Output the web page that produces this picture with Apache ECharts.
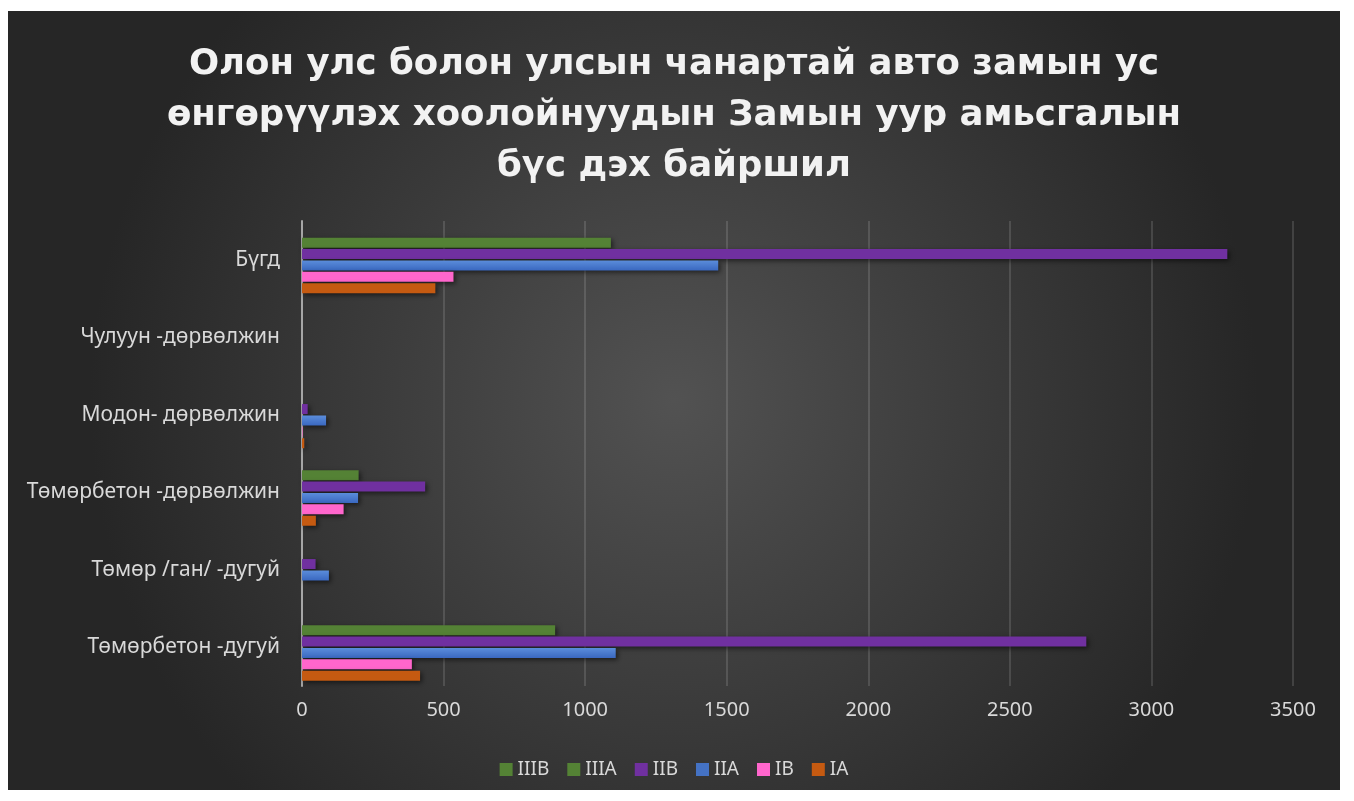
<!DOCTYPE html>
<html>
<head>
<meta charset="utf-8">
<script src="https://cdn.jsdelivr.net/npm/echarts@6/dist/echarts.min.js"></script>
<style>
html,body{margin:0;padding:0;background:#ffffff;}
#chart{position:absolute;left:8px;top:11px;width:1332px;height:779px;}
</style>
</head>
<body>
<div id="chart"></div>
<script>
const categories = ['Төмөрбетон -дугуй','Төмөр /ган/ -дугуй','Төмөрбетон -дөрвөлжин','Модон- дөрвөлжин','Чулуун -дөрвөлжин','Бүгд'];
const seriesNames = ['IIIB','IIIA','IIB','IIA','IB','IA'];
const valuesIA   = [417, 0, 49, 8, 0, 471];
const valuesIB   = [388, 0, 147, 2, 0, 535];
const valuesIIA  = [1108, 95, 198, 85, 0, 1470];
const valuesIIB  = [2770, 48, 435, 20, 0, 3268];
const valuesIIIA = [894, 0, 200, 0, 0, 1091];
const valuesIIIB = [0, 0, 0, 0, 0, 0];
const legendOrder = ['IIIB','IIIA','IIB','IIA','IB','IA'];
const xTicks = [0, 500, 1000, 1500, 2000, 2500, 3000, 3500];

const colors = {
  IA: '#c55a11',
  IB: '#ff66cc',
  IIA: {type:'linear',x:0,y:0,x2:0,y2:1,colorStops:[{offset:0,color:'#5b8ddb'},{offset:1,color:'#3a68c0'}]},
  IIB: '#7030a0',
  IIIA: '#548235',
  IIIB: '#548235'
};
const legendColors = {IA:'#c55a11',IB:'#ff66cc',IIA:'#4472c4',IIB:'#7030a0',IIIA:'#548235',IIIB:'#548235'};
const dataMap = {IA:valuesIA,IB:valuesIB,IIA:valuesIIA,IIB:valuesIIB,IIIA:valuesIIIA,IIIB:valuesIIIB};

const chart = echarts.init(document.getElementById('chart'));
chart.setOption({
  backgroundColor: {type:'radial',x:0.5,y:0.5,r:0.75,colorStops:[{offset:0,color:'#525252'},{offset:1,color:'#262626'}]},
  title: {
    text: 'Олон улс болон улсын чанартай авто замын ус\nөнгөрүүлэх хоолойнуудын Замын уур амьсгалын\nбүс дэх байршил',
    left: 'center',
    top: 23,
    textStyle: {color:'#f2f2f2', fontSize:35.5, fontWeight:'bold', fontFamily:'DejaVu Sans', lineHeight:51}
  },
  legend: {
    data: legendOrder.map(n => ({name:n, itemStyle:{color:legendColors[n]}})),
    bottom: 6,
    left: 'center',
    itemWidth: 13, itemHeight: 13, itemGap: 18,
    icon: 'rect',
    textStyle: {color:'#d9d9d9', fontSize:19, fontFamily:'Noto Sans'}
  },
  grid: {left:294, right:47, top:210, bottom:104, containLabel:false},
  xAxis: {
    type:'value', min:0, max:3500, interval:500,
    axisLine:{show:false}, axisTick:{show:false},
    splitLine:{lineStyle:{color:'rgba(255,255,255,0.13)', width:2}},
    axisLabel:{color:'#d9d9d9', fontSize:20, fontFamily:'Noto Sans', margin:14, formatter: v => String(v)}
  },
  yAxis: {
    type:'category', data:categories,
    axisLine:{lineStyle:{color:'#a6a6a6', width:2}},
    axisTick:{show:false},
    axisLabel:{color:'#d9d9d9', fontSize:21, fontFamily:'Noto Sans', margin:22, padding:[4,0,0,0]}
  },
  series: seriesNames.map(n => ({
    name:n, type:'bar', data:dataMap[n],
    barWidth:10, barGap:'14%',
    itemStyle:{color:colors[n], shadowColor:'rgba(0,0,0,0.55)', shadowBlur:5, shadowOffsetX:2, shadowOffsetY:2}
  }))
});
</script>
</body>
</html>
